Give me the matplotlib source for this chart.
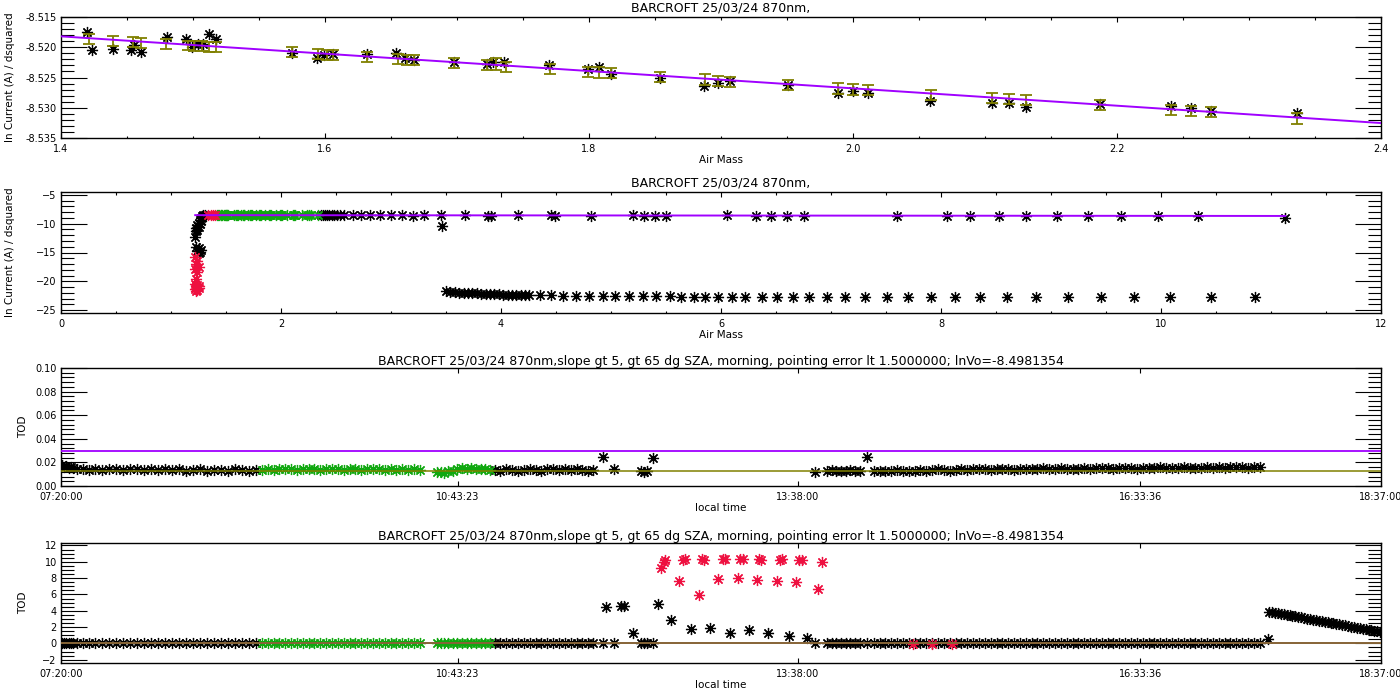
"""Langley plot panels for BARCROFT 870nm, IDL style."""
import matplotlib
matplotlib.use("Agg")
import matplotlib.pyplot as plt
from matplotlib.ticker import MultipleLocator, FixedLocator, FixedFormatter, FormatStrFormatter
import numpy as np

# Colours
C_PURPLE = "#a000ff"
C_OLIVE = "#808000"
C_RED = "#ee1040"
C_GREEN = "#10a810"
ASTER = (8, 2, 0)

TITLE_A = "BARCROFT 25/03/24 870nm,"
TITLE_B = ("BARCROFT 25/03/24 870nm,slope gt 5, gt 65 dg SZA, morning, "
           "pointing error lt 1.5000000; lnVo=-8.4981354")

# fit
LN_V0 = -8.4981354
TAU = 0.01433

# ---- panel 1: zoom on the Langley points ----
EB_AM = [1.4214, 1.4396, 1.4543, 1.4604, 1.4795, 1.4960, 1.5010, 1.5066, 1.5121, 1.5174,
         1.5750, 1.5949, 1.6013, 1.6058, 1.6320, 1.6555, 1.6619, 1.6674, 1.6975, 1.7225,
         1.7295, 1.7371, 1.7705, 1.7990, 1.8078, 1.8167, 1.8538, 1.8879, 1.8975, 1.9068,
         1.9505, 1.9889, 1.9997, 2.0111, 2.0591, 2.1055, 2.1184, 2.1308, 2.1871, 2.2407,
         2.2561, 2.2710, 2.3366]
EB_LN = [-8.51866, -8.51891, -8.51908, -8.51924, -8.51949, -8.51971, -8.51977, -8.51979,
         -8.51990, -8.52001, -8.52084, -8.52117, -8.52123, -8.52134, -8.52167, -8.52200,
         -8.52205, -8.52216, -8.52266, -8.52299, -8.52280, -8.52321, -8.52365, -8.52409,
         -8.52415, -8.52431, -8.52486, -8.52536, -8.52553, -8.52569, -8.52630, -8.52685,
         -8.52701, -8.52712, -8.52784, -8.52844, -8.52861, -8.52878, -8.52960, -8.53043,
         -8.53057, -8.53073, -8.53175]
EB_ERR = [0.0008, 0.00083, 0.00083, 0.00083, 0.00085, 0.0008, 0.00085, 0.00083, 0.00083,
          0.00083, 0.00083, 0.00083, 0.00083, 0.00083, 0.00083, 0.00083, 0.00083, 0.00083,
          0.00083, 0.00083, 0.00095, 0.00083, 0.00083, 0.00078, 0.00088, 0.00083, 0.00083,
          0.00088, 0.00083, 0.00083, 0.00083, 0.00088, 0.00088, 0.00083, 0.00085, 0.00083,
          0.00083, 0.00083, 0.00083, 0.00083, 0.00085, 0.00085, 0.00088]

AST_AM = [1.4195, 1.4232, 1.4396, 1.4530, 1.4556, 1.4606, 1.4801, 1.4944, 1.4990, 1.5040,
          1.5078, 1.5121, 1.5174, 1.5748, 1.5942, 1.5992, 1.6058, 1.6320, 1.6535, 1.6606,
          1.6674, 1.6975, 1.7225, 1.7275, 1.7356, 1.7699, 1.7990, 1.8078, 1.8167, 1.8538,
          1.8874, 1.8975, 1.9068, 1.9505, 1.9889, 1.9997, 2.0111, 2.0583, 2.1055, 2.1184,
          2.1308, 2.1871, 2.2407, 2.2561, 2.2710, 2.3366]
AST_LN = [-8.51742, -8.52046, -8.52034, -8.52046, -8.51963, -8.52073, -8.51836, -8.51869,
          -8.51990, -8.51952, -8.51952, -8.51786, -8.51864, -8.52090, -8.52172, -8.52128,
          -8.52117, -8.52112, -8.52090, -8.52183, -8.52211, -8.52238, -8.52277, -8.52238,
          -8.52238, -8.52293, -8.52359, -8.52321, -8.52442, -8.52503, -8.52641, -8.52597,
          -8.52558, -8.52624, -8.52762, -8.52723, -8.52762, -8.52889, -8.52927, -8.52927,
          -8.52982, -8.52944, -8.52966, -8.52999, -8.53049, -8.53082]

# ---- panel 2: all air masses ----
P2_COL_AM = [1.31, 1.29, 1.28, 1.27, 1.26, 1.27, 1.25, 1.26, 1.24, 1.25, 1.23, 1.24, 1.23,
             1.22, 1.23, 1.25, 1.27, 1.24, 1.26, 1.25]
P2_COL_LN = [-8.50, -8.55, -8.75, -9.0, -9.3, -9.55, -9.8, -10.05, -10.3, -10.55, -10.8,
             -11.05, -11.3, -12.3, -14.1, -14.3, -14.5, -14.7, -14.9, -15.1]
P2_RED_AM = [1.34, 1.36, 1.38, 1.40, 1.22, 1.24, 1.23, 1.25, 1.22, 1.24, 1.23, 1.22, 1.24,
             1.23, 1.25, 1.22, 1.24, 1.23, 1.25]
P2_RED_LN = [-8.52, -8.52, -8.53, -8.52, -15.7, -16.4, -17.0, -17.5, -17.9, -18.3, -19.6,
             -20.4, -20.7, -20.9, -21.1, -21.3, -21.5, -21.6, -20.8]
P2_TOP_AM = [2.36, 2.38, 2.40, 2.42, 2.44, 2.46, 2.48, 2.51, 2.54, 2.57, 2.65, 2.73, 2.81,
             2.90, 3.00, 3.10, 3.20, 3.30, 3.45, 3.67, 3.88, 3.91, 4.15, 4.45, 4.49, 4.82,
             5.20, 5.30, 5.40, 5.50, 6.05, 6.32, 6.45, 6.60, 6.75, 7.60, 8.05, 8.26, 8.53,
             8.77, 9.05, 9.34, 9.64, 9.97, 10.34, 11.13]
P2_TOP_LN = [-8.53, -8.54, -8.52, -8.55, -8.53, -8.54, -8.55, -8.53, -8.56, -8.54, -8.55,
             -8.56, -8.54, -8.57, -8.56, -8.55, -8.58, -8.56, -8.57, -8.55, -8.58, -8.60,
             -8.57, -8.56, -8.59, -8.58, -8.57, -8.60, -8.58, -8.59, -8.56, -8.58, -8.60,
             -8.59, -8.61, -8.60, -8.62, -8.61, -8.63, -8.62, -8.64, -8.63, -8.62, -8.65,
             -8.64, -8.95]
P2_OUT_AM = [3.46]
P2_OUT_LN = [-10.4]
P2_LOW_AM = [3.50, 3.54, 3.58, 3.62, 3.66, 3.70, 3.74, 3.78, 3.82, 3.86, 3.90, 3.94, 3.98,
             4.02, 4.06, 4.10, 4.14, 4.18, 4.22, 4.25, 4.35, 4.45, 4.56, 4.68, 4.80, 4.93,
             5.04, 5.16, 5.29, 5.41, 5.54, 5.64, 5.75, 5.85, 5.97, 6.10, 6.22, 6.37, 6.51,
             6.65, 6.80, 6.96, 7.13, 7.31, 7.51, 7.70, 7.91, 8.13, 8.35, 8.60, 8.86, 9.15,
             9.45, 9.75, 10.08, 10.45, 10.85]
P2_LOW_LN = [-21.75, -21.85, -21.9, -21.95, -22.0, -22.05, -22.1, -22.1, -22.15, -22.2,
             -22.2, -22.25, -22.25, -22.3, -22.3, -22.35, -22.35, -22.4, -22.4, -22.4,
             -22.45, -22.45, -22.5, -22.5, -22.55, -22.55, -22.55, -22.6, -22.6, -22.6,
             -22.6, -22.65, -22.65, -22.65, -22.65, -22.65, -22.7, -22.7, -22.7, -22.7,
             -22.7, -22.7, -22.7, -22.7, -22.7, -22.7, -22.7, -22.7, -22.7, -22.7, -22.7,
             -22.7, -22.7, -22.7, -22.7, -22.7, -22.7]

# ---- panels 3/4: TOD vs local time (decimal hours) ----
TIME_TICKS = ["07:20:00", "10:43:23", "13:38:00", "16:33:36", "18:37:00"]
TOD_LIMIT = 0.03
TOD_MEAN = 0.013

T_MORN = [7.34, 7.36, 7.38, 7.40, 7.42, 7.44, 7.47, 7.52, 7.57, 7.62, 7.68, 7.74, 7.80,
          7.86, 7.92, 7.98, 8.04, 8.10, 8.16, 8.22, 8.28, 8.34, 8.40, 8.46, 8.52, 8.58,
          8.64, 8.70, 8.76, 8.82, 8.88, 8.94, 9.00]
D_MORN = [0.018, 0.016, 0.017, 0.015, 0.016, 0.015, 0.0145, 0.014, 0.0135, 0.014, 0.0135,
          0.014, 0.014, 0.0135, 0.014, 0.014, 0.0135, 0.014, 0.0135, 0.014, 0.0135, 0.014,
          0.013, 0.0135, 0.014, 0.013, 0.0135, 0.0135, 0.013, 0.014, 0.0135, 0.013, 0.0135]
T_GRN1 = [9.05, 9.10, 9.15, 9.20, 9.25, 9.30, 9.35, 9.40, 9.45, 9.50, 9.55, 9.60, 9.65,
          9.70, 9.75, 9.80, 9.85, 9.90, 9.95, 10.00, 10.05, 10.10, 10.15, 10.20, 10.25,
          10.30, 10.35, 10.40]
D_GRN1 = [0.0135, 0.014, 0.0135, 0.014, 0.0145, 0.014, 0.0135, 0.014, 0.0145, 0.014,
          0.0135, 0.014, 0.0145, 0.014, 0.0135, 0.014, 0.014, 0.0135, 0.014, 0.0145,
          0.014, 0.0135, 0.014, 0.0135, 0.014, 0.0135, 0.014, 0.0135]
T_GRN2 = [10.55, 10.58, 10.61, 10.64, 10.68, 10.72, 10.76, 10.80, 10.84, 10.88, 10.92,
          10.96, 11.00]
D_GRN2 = [0.0115, 0.012, 0.011, 0.0125, 0.013, 0.0145, 0.015, 0.0145, 0.015, 0.014,
          0.0145, 0.014, 0.0135]
T_MID = [11.04, 11.09, 11.14, 11.19, 11.24, 11.29, 11.34, 11.39, 11.44, 11.49, 11.54,
         11.59, 11.64, 11.69, 11.74, 11.79, 11.84, 11.88, 11.97, 12.06, 12.29, 12.32,
         12.34, 12.39]
D_MID = [0.0135, 0.013, 0.014, 0.0135, 0.013, 0.0135, 0.014, 0.0135, 0.013, 0.014,
         0.0145, 0.0135, 0.014, 0.0135, 0.014, 0.0135, 0.013, 0.0135, 0.025, 0.014,
         0.0125, 0.012, 0.0125, 0.024]
T_AFT = [13.78, 13.88, 13.92, 13.96, 14.00, 14.04, 14.08, 14.12, 14.16, 14.22,
         14.28, 14.33, 14.38, 14.43, 14.48, 14.53, 14.58, 14.63, 14.68, 14.73,
         14.78, 14.83, 14.88, 14.93, 14.98, 15.03, 15.08, 15.13, 15.18, 15.23,
         15.28, 15.33, 15.38, 15.43, 15.48, 15.53, 15.58, 15.63, 15.68, 15.73,
         15.78, 15.83, 15.88, 15.93, 15.98, 16.03, 16.08, 16.13, 16.18, 16.23,
         16.28, 16.33, 16.38, 16.43, 16.48, 16.53, 16.58, 16.63, 16.68, 16.73,
         16.78, 16.83, 16.88, 16.93, 16.98, 17.03, 17.08, 17.13, 17.18, 17.23,
         17.28, 17.33, 17.38, 17.43, 17.48, 17.53, 17.58]
D_AFT = [0.012, 0.013, 0.0135, 0.013, 0.0125, 0.013, 0.0135, 0.013, 0.0125, 0.025,
         0.0125, 0.013, 0.0125, 0.013, 0.0135, 0.013, 0.0125, 0.013, 0.0135, 0.013,
         0.0135, 0.014, 0.0135, 0.013, 0.0135, 0.014, 0.0135, 0.014, 0.0145, 0.014,
         0.0135, 0.014, 0.0145, 0.014, 0.0135, 0.014, 0.0145, 0.014, 0.0145, 0.015,
         0.014, 0.0145, 0.015, 0.0145, 0.014, 0.0145, 0.015, 0.0145, 0.015, 0.0155,
         0.015, 0.0145, 0.015, 0.0155, 0.015, 0.0145, 0.015, 0.0155, 0.015, 0.016,
         0.0155, 0.015, 0.0155, 0.016, 0.0155, 0.015, 0.0155, 0.016, 0.0155, 0.016,
         0.0155, 0.016, 0.0165, 0.016, 0.0155, 0.016, 0.0165]

# panel 4 only: cloud-affected points
T_CLD_BLK = [11.99, 12.12, 12.15, 12.22, 12.44, 12.55, 12.715, 12.885, 13.05, 13.215,
             13.38, 13.555, 13.71, 17.65]
D_CLD_BLK = [4.5, 4.6, 4.6, 1.3, 4.8, 2.9, 1.8, 1.9, 1.3, 1.7, 1.3, 0.9, 0.7, 0.6]
T_CLD_RED = [12.46, 12.49, 12.50, 12.62, 12.65, 12.67, 12.79, 12.81, 12.83, 12.95, 12.99,
             13.01, 13.12, 13.14, 13.16, 13.28, 13.30, 13.32, 13.455, 13.48, 13.50, 13.62,
             13.645, 13.665, 13.80, 13.835, 14.62, 14.78, 14.95]
D_CLD_RED = [9.2, 10.0, 10.2, 7.7, 10.2, 10.3, 5.9, 10.3, 10.2, 7.9, 10.3, 10.4, 8.0, 10.3,
             10.4, 7.8, 10.3, 10.2, 7.7, 10.2, 10.4, 7.5, 10.2, 10.2, 6.7, 10.0, -0.05,
             -0.05, -0.05]
T_RAMP = [17.66, 17.685, 17.71, 17.735, 17.76, 17.785, 17.81, 17.835, 17.86, 17.885, 17.91,
          17.935, 17.96, 17.985, 18.01, 18.035, 18.06, 18.085, 18.11, 18.135, 18.16, 18.185,
          18.21, 18.235, 18.26, 18.285, 18.31, 18.335, 18.36, 18.385, 18.41, 18.435, 18.46,
          18.485, 18.51, 18.535, 18.56, 18.585, 18.61]
D_RAMP = [3.88, 3.82, 3.76, 3.70, 3.63, 3.57, 3.50, 3.44, 3.37, 3.31, 3.24, 3.18, 3.11,
          3.05, 2.98, 2.92, 2.85, 2.79, 2.72, 2.66, 2.59, 2.53, 2.46, 2.40, 2.33, 2.27,
          2.20, 2.14, 2.07, 2.01, 1.94, 1.88, 1.81, 1.75, 1.68, 1.62, 1.55, 1.49, 1.42]


def hms(s):
    h, m, sec = (int(v) for v in s.split(":"))
    return h + m / 60 + sec / 3600


def stars(ax, x, y, color="black"):
    ax.plot(x, y, linestyle="none", marker=ASTER, ms=8, mew=0.9, color=color, zorder=3)


def style(ax):
    ax.tick_params(which="both", direction="in", top=True, right=True,
                   labelsize=7, width=0.8)
    ax.tick_params(axis="y", which="major", length=18.5, pad=3)
    ax.tick_params(axis="y", which="minor", length=9.2)
    ax.tick_params(axis="x", which="major", length=3.6, pad=4)
    ax.tick_params(axis="x", which="minor", length=1.8)
    for sp in ax.spines.values():
        sp.set_linewidth(1.0)


def time_axis(ax):
    pos = [hms(s) for s in TIME_TICKS]
    ax.set_xlim(pos[0], pos[-1])
    ax.xaxis.set_major_locator(FixedLocator(pos))
    ax.xaxis.set_major_formatter(FixedFormatter(TIME_TICKS))
    ax.set_xlabel("local time", fontsize=7.5, labelpad=1)
    ax.set_ylabel("TOD", fontsize=7.5)
    ax.yaxis.set_label_coords(-0.0246, 0.5)


fig = plt.figure(figsize=(14, 7), dpi=100)


def axes_px(top, bottom):
    return fig.add_axes([61 / 1400, 1 - bottom / 700, 1320 / 1400, (bottom - top) / 700])


ax1 = axes_px(17, 138)
ax2 = axes_px(192, 313)
ax3 = axes_px(368, 486)
ax4 = axes_px(543, 663)

all_am = P2_COL_AM + P2_RED_AM + P2_TOP_AM + P2_LOW_AM + AST_AM
m_fit = np.array([min(all_am), max(all_am)])
ln_fit = LN_V0 - TAU * m_fit

# panel 1
stars(ax1, AST_AM, AST_LN)
ax1.errorbar(EB_AM, EB_LN, yerr=EB_ERR, fmt="none", ecolor=C_OLIVE,
             elinewidth=1.3, capsize=4.5, capthick=1.3, zorder=4)
ax1.plot(m_fit, ln_fit, color=C_PURPLE, lw=1.4, zorder=5)
ax1.set_xlim(1.4, 2.4)
ax1.set_ylim(-8.535, -8.515)
ax1.xaxis.set_major_locator(MultipleLocator(0.2))
ax1.xaxis.set_minor_locator(MultipleLocator(0.05))
ax1.yaxis.set_major_locator(MultipleLocator(0.005))
ax1.yaxis.set_minor_locator(MultipleLocator(0.001))
ax1.yaxis.set_major_formatter(FormatStrFormatter("%.3f"))
ax1.set_title(TITLE_A, fontsize=9, pad=4)
ax1.set_xlabel("Air Mass", fontsize=7.5, labelpad=1)
ax1.set_ylabel("ln Current (A) / dsquared", fontsize=7.5)
ax1.yaxis.set_label_coords(-0.0352, 0.5)
style(ax1)

# panel 2
stars(ax2, P2_LOW_AM, P2_LOW_LN)
stars(ax2, P2_TOP_AM, P2_TOP_LN)
stars(ax2, P2_OUT_AM, P2_OUT_LN)
stars(ax2, P2_COL_AM, P2_COL_LN)
stars(ax2, AST_AM, AST_LN, C_GREEN)
stars(ax2, P2_RED_AM, P2_RED_LN, C_RED)
ax2.plot(m_fit, ln_fit, color=C_PURPLE, lw=1.4, zorder=5)
ax2.set_xlim(0, 12)
ax2.set_ylim(-25.5, -4.5)
ax2.xaxis.set_major_locator(MultipleLocator(2))
ax2.xaxis.set_minor_locator(MultipleLocator(0.5))
ax2.yaxis.set_major_locator(MultipleLocator(5))
ax2.yaxis.set_minor_locator(MultipleLocator(1))
ax2.set_title(TITLE_A, fontsize=9, pad=4)
ax2.set_xlabel("Air Mass", fontsize=7.5, labelpad=1)
ax2.set_ylabel("ln Current (A) / dsquared", fontsize=7.5)
ax2.yaxis.set_label_coords(-0.0352, 0.5)
style(ax2)

# panels 3 and 4 share the low-TOD points
for ax in (ax3, ax4):
    stars(ax, T_MORN, D_MORN)
    stars(ax, T_MID, D_MID)
    stars(ax, T_AFT, D_AFT)
    stars(ax, T_GRN1, D_GRN1, C_GREEN)
    stars(ax, T_GRN2, D_GRN2, C_GREEN)

stars(ax4, T_CLD_BLK, D_CLD_BLK)
stars(ax4, T_RAMP, D_RAMP)
stars(ax4, T_CLD_RED, D_CLD_RED, C_RED)

for ax in (ax3, ax4):
    ax.axhline(TOD_LIMIT, color=C_PURPLE, lw=1.3, zorder=5)
    ax.axhline(TOD_MEAN, color=C_OLIVE, lw=1.1, zorder=5)
    time_axis(ax)
    ax.set_title(TITLE_B, fontsize=9, pad=0)
    style(ax)

ax3.set_ylim(0, 0.1)
ax3.yaxis.set_major_locator(MultipleLocator(0.02))
ax3.yaxis.set_minor_locator(MultipleLocator(0.004))
ax3.yaxis.set_major_formatter(FormatStrFormatter("%.2f"))

ax4.set_ylim(-2.4, 12.3)
ax4.yaxis.set_major_locator(MultipleLocator(2))
ax4.yaxis.set_minor_locator(MultipleLocator(0.5))

fig.savefig("out.png", dpi=100, facecolor="white")
